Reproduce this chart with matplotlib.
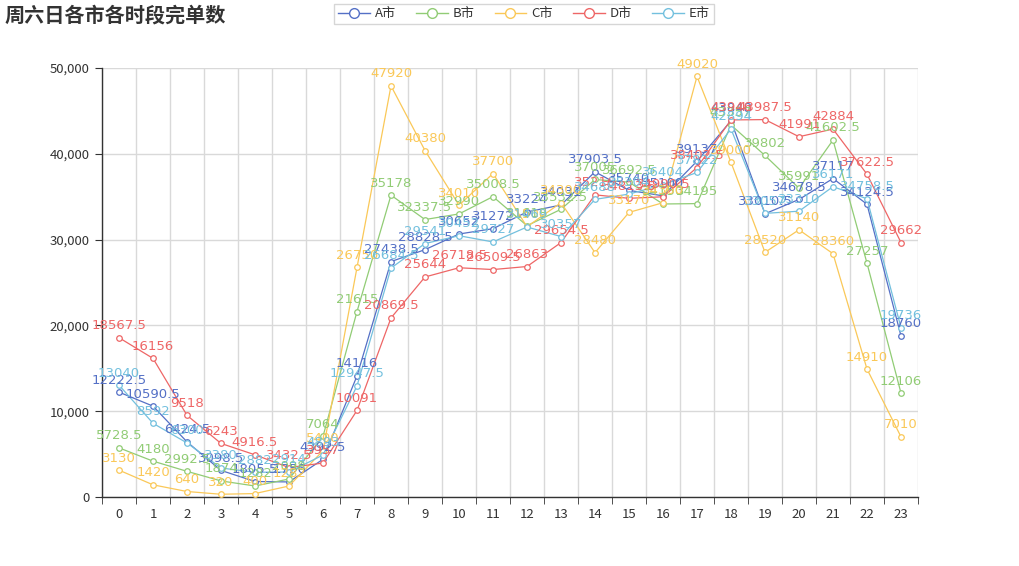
import matplotlib
matplotlib.use("Agg")
import matplotlib.pyplot as plt
from matplotlib.lines import Line2D
from matplotlib.ticker import FuncFormatter

plt.rcParams['font.family'] = ['Noto Sans CJK SC', 'DejaVu Sans']

hours = [str(h) for h in range(24)]
series_names = ["A市", "B市", "C市", "D市", "E市"]
colors = ["#5470c6", "#91cc75", "#fac858", "#ee6666", "#73c0de"]

a_vals = [12222.5, 10590.5, 6424.5, 3098.5, 1805.5, 1756, 4392.5, 14116, 27438.5, 28828.5,
          30652, 31272, 33224, 34031, 37903.5, 35740, 35100, 39137, 43848, 33010.5,
          34678.5, 37117, 34124.5, 18760]
b_vals = [5728.5, 4180, 2992.5, 1874, 1282, 2098, 7064, 21615, 35178, 32337.5,
          32990, 35008.5, 31618, 33532.5, 37005, 36692.5, 34150, 34195, 43357, 39802,
          35991, 41602.5, 27257, 12106]
c_vals = [3130, 1420, 640, 320, 400, 1282, 5400, 26750, 47920, 40380,
          34010, 37700, 31500, 34300, 28480, 33170, 34300, 49020, 39000, 28520,
          31140, 28360, 14910, 7010]
d_vals = [18567.5, 16156, 9518, 6243, 4916.5, 3432.5, 3957, 10091, 20869.5, 25644,
          26718.5, 26509.5, 26863, 29654.5, 35216, 34813.5, 34990.5, 38402.5, 43946, 43987.5,
          41991, 42884, 37622.5, 29662]
e_vals = [13040, 8592, 6300, 3380, 2882, 2914, 4893, 12947.5, 26684.5, 29541,
          30452, 29727, 31469, 30357, 34688, 35304, 36404, 37822, 42894, 33057,
          33310, 36171, 34758.5, 19736]
all_vals = [a_vals, b_vals, c_vals, d_vals, e_vals]

W, H = 1019, 566
fig = plt.figure(figsize=(W / 100, H / 100), dpi=100)
ax = fig.add_axes([102 / W, 1 - 497 / H, (918 - 102) / W, (497 - 68) / H])

x = list(range(len(hours)))
for name, vals, col in zip(series_names, all_vals, colors):
    ax.plot(x, vals, color=col, lw=0.9, marker='o', markersize=4,
            markerfacecolor='white', markeredgecolor=col, markeredgewidth=0.9,
            zorder=3, clip_on=False)
for name, vals, col in zip(series_names, all_vals, colors):
    for xi, v in zip(x, vals):
        lbl = ('%g' % v)
        ax.annotate(lbl, (xi, v), xytext=(0, 4), textcoords='offset points',
                    ha='center', va='bottom', color=col, fontsize=9.5, zorder=4,
                    family=['DejaVu Sans'])

ax.set_xlim(-0.5, 23.5)
ax.set_ylim(0, 50000)
ax.set_yticks(range(0, 50001, 10000))
ax.yaxis.set_major_formatter(FuncFormatter(lambda v, p: f"{int(v):,}"))
ax.set_xticks(x)
ax.set_xticklabels(hours)
ax.set_xticks([i - 0.5 for i in range(25)], minor=True)

ax.grid(axis='y', color='#d9d9d9', lw=1, zorder=0)
ax.grid(axis='x', which='minor', color='#d9d9d9', lw=1, zorder=0)
ax.grid(axis='x', which='major', visible=False)

for s in ['top', 'right']:
    ax.spines[s].set_visible(False)
for s in ['left', 'bottom']:
    ax.spines[s].set_color('#333333')
    ax.spines[s].set_linewidth(1)

ax.tick_params(axis='x', which='major', length=0, labelsize=9.5, labelcolor='#333333', pad=8)
ax.tick_params(axis='x', which='minor', length=5, color='#333333', direction='out')
ax.tick_params(axis='y', length=5, color='#333333', labelsize=9.5, labelcolor='#333333', pad=4)

fig.text(5 / W, 1 - 15 / H, "周六日各市各时段完单数", fontsize=14.5, fontweight='bold',
         color='#333333', va='center', ha='left')

handles = [Line2D([0], [0], color=c, lw=1.0, marker='o', markersize=7,
                  markerfacecolor='white', markeredgecolor=c) for c in colors]
leg = fig.legend(handles, series_names, loc='center', bbox_to_anchor=(524 / W, 1 - 14 / H),
                 ncol=5, frameon=True, fontsize=9.5, handlelength=2.4, handletextpad=0.4,
                 columnspacing=1.5, borderpad=0.3, fancybox=False)
leg.get_frame().set_edgecolor('#cccccc')
leg.get_frame().set_linewidth(1)
for t in leg.get_texts():
    t.set_color('#333333')

fig.savefig("out.png", dpi=100)
